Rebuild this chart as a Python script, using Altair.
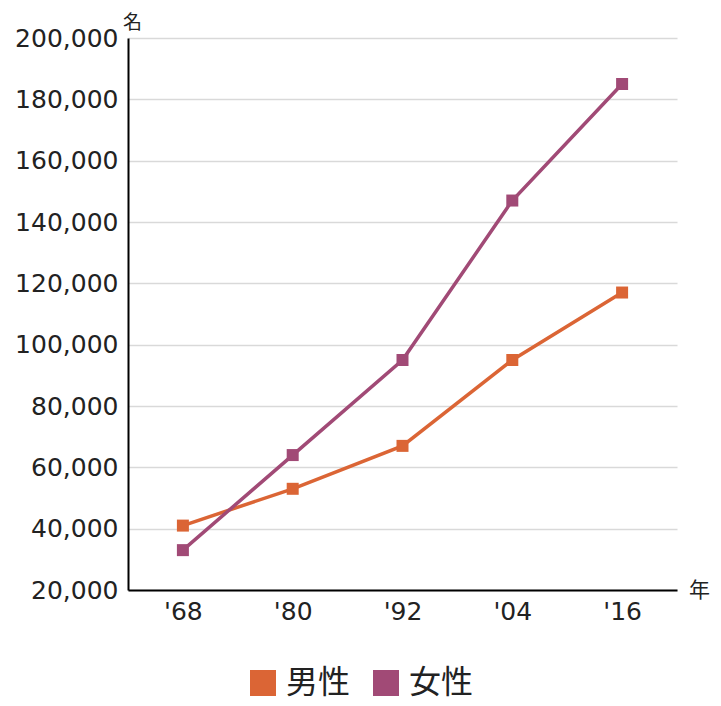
import altair as alt
import pandas as pd

years = ["'68", "'80", "'92", "'04", "'16"]
male = [41000, 53000, 67000, 95000, 117000]
female = [33000, 64000, 95000, 147000, 185000]
series = ["男性", "女性"]
colors = ["#DB6535", "#A14A76"]

rows = []
for i, y in enumerate(years):
    rows.append({"year": y, "series": series[0], "value": male[i], "order": i})
    rows.append({"year": y, "series": series[1], "value": female[i], "order": i})
df = pd.DataFrame(rows)

FONT = "Noto Sans CJK JP"
NUMFONT = "DejaVu Sans"

x = alt.X("year:O", sort=years,
          scale=alt.Scale(type="band", paddingInner=0, paddingOuter=0),
          axis=alt.Axis(title="年", tickBand="extent", labelAngle=0, ticks=False,
                        labelFont=NUMFONT, labelFontSize=25, labelPadding=9, labelColor="#222",
                        domainColor="#000", domainWidth=2,
                        gridColor="#d9d9d9", gridWidth=1.5,
                        titleAngle=0, titleX=571, titleY=0, titleAlign="center",
                        titleBaseline="middle", titleFontSize=21, titleFontWeight="normal",
                        titleColor="#222"))
y = alt.Y("value:Q",
          scale=alt.Scale(domain=[20000, 200000], nice=False, zero=False),
          axis=alt.Axis(title="名", values=list(range(20000, 200001, 20000)), format=",d",
                        ticks=False, labelFont=NUMFONT, labelFontSize=25, labelPadding=10,
                        labelColor="#222",
                        domainColor="#000", domainWidth=2,
                        gridColor="#d9d9d9", gridWidth=1.5,
                        titleAngle=0, titleX=4, titleY=-16, titleAlign="center",
                        titleBaseline="middle", titleFontSize=19, titleFontWeight="normal",
                        titleColor="#222"))
color = alt.Color("series:N", sort=series,
                  scale=alt.Scale(domain=series, range=colors),
                  legend=alt.Legend(title=None, orient="none", direction="horizontal",
                                    legendX=119, legendY=629, symbolType="square",
                                    symbolSize=676, symbolStrokeWidth=0, symbolOpacity=1,
                                    labelFontSize=32, labelColor="#222", columnPadding=19,
                                    labelOffset=7, padding=0))

lines = alt.Chart(df).mark_line(strokeWidth=3.5).encode(x=x, y=y, color=color, order="order:Q")
pts = alt.Chart(df).mark_point(shape="square", filled=True, size=144, opacity=1).encode(
    x=x, y=y, color=color)

chart = (lines + pts).properties(
    width=549, height=552,
    autosize=alt.AutoSizeParams(type="none"),
    padding={"left": 120, "top": 30, "right": 36, "bottom": 112},
).configure(font=FONT).configure_view(stroke=None)

chart.save("out.html", embed_options={"renderer": "svg", "actions": False})
